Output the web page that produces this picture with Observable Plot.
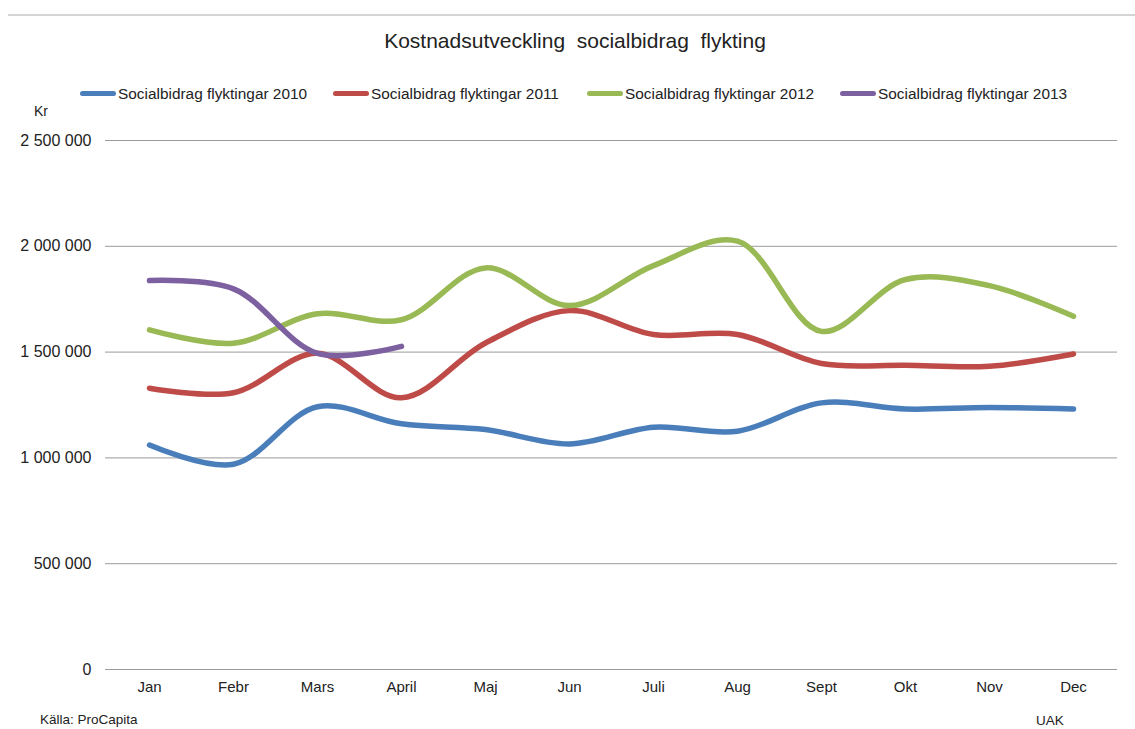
<!DOCTYPE html>
<html>
<head>
<meta charset="utf-8">
<script src="https://cdn.jsdelivr.net/npm/d3@7"></script>
<script src="https://cdn.jsdelivr.net/npm/@observablehq/plot@0.6"></script>
<style>
  body { margin: 0; background: #fff; font-family: "Liberation Sans", Arial, sans-serif; color: #222; }
  #wrap { position: relative; width: 1135px; height: 729px; overflow: hidden; }
  #head { position: relative; height: 130px; }
  .topline { position: absolute; left: 8px; right: 0; top: 14px; height: 2px; background: #d4d4d4; }
  .title { position: absolute; left: 0; width: 1150px; top: 30px; line-height: 1; text-align: center; font-size: 21px; white-space: pre; }
  .leg { position: absolute; top: 86px; font-size: 15.4px; line-height: 1; white-space: nowrap; display: flex; align-items: center; }
  .sw { display: inline-block; width: 36px; height: 5px; border-radius: 3px; margin-right: 2px; }
  .kr { position: absolute; left: 34px; top: 104px; font-size: 14px; line-height: 1; }
  #foot { position: relative; height: 24px; }
  .src { position: absolute; left: 40px; top: 8px; font-size: 13.5px; line-height: 1; }
  .uak { position: absolute; left: 1036px; top: 9px; font-size: 13.5px; line-height: 1; }
</style>
</head>
<body>
<div id="wrap">
  <div id="head">
    <div class="topline"></div>
    <div class="title">Kostnadsutveckling  socialbidrag  flykting</div>
    <div id="legend"></div>
    <div class="kr">Kr</div>
  </div>
  <div id="chart"></div>
  <div id="foot">
    <div class="src">Källa: ProCapita</div>
    <div class="uak">UAK</div>
  </div>
</div>
<script>
const months = ["Jan","Febr","Mars","April","Maj","Jun","Juli","Aug","Sept","Okt","Nov","Dec"];
const seriesNames = ["Socialbidrag flyktingar 2010","Socialbidrag flyktingar 2011","Socialbidrag flyktingar 2012","Socialbidrag flyktingar 2013"];
const colors = ["#4a7ebb","#be4b48","#98b954","#7d60a0"];
const v2010 = [1061000, 970000, 1242000, 1161000, 1134000, 1066000, 1145000, 1126000, 1260000, 1231000, 1238000, 1231000];
const v2011 = [1329000, 1308000, 1494000, 1284000, 1543000, 1696000, 1583000, 1583000, 1446000, 1438000, 1433000, 1491000];
const v2012 = [1605000, 1542000, 1681000, 1653000, 1898000, 1720000, 1909000, 2024000, 1598000, 1843000, 1814000, 1669000];
const v2013 = [1838000, 1799000, 1494000, 1527000];
const yTicks = [0, 500000, 1000000, 1500000, 2000000, 2500000];

const allValues = [v2010, v2011, v2012, v2013];
const data = [];
allValues.forEach((vals, si) => vals.forEach((v, i) => data.push({month: months[i], value: v, series: seriesNames[si]})));

const fmt = d3.formatLocale({decimal: ",", thousands: " ", grouping: [3], currency: ["", ""]}).format(",d");

// legend
const legPos = [80, 333, 587, 840];
const legend = document.getElementById("legend");
seriesNames.forEach((n, i) => {
  const d = document.createElement("div");
  d.className = "leg";
  d.style.left = legPos[i] + "px";
  d.innerHTML = `<span class="sw" style="background:${colors[i]}"></span><span>${n}</span>`;
  legend.appendChild(d);
});

const chart = Plot.plot({
  width: 1135,
  height: 575,
  marginTop: 10,
  marginBottom: 36,
  marginLeft: 105,
  marginRight: 18,
  style: {fontFamily: "Liberation Sans, Arial, sans-serif", fontSize: "15px", color: "#222", background: "#fff"},
  x: {type: "point", domain: months, padding: 0.5, label: null},
  y: {domain: [0, 2500000], label: null},
  color: {domain: seriesNames, range: colors},
  marks: [
    Plot.ruleY(yTicks, {stroke: "#9a9a9a", strokeWidth: 1}),
    Plot.axisY({ticks: yTicks, tickFormat: fmt, tickSize: 0, tickPadding: 14, label: null, fontSize: 16}),
    Plot.axisX({tickSize: 0, tickPadding: 12, label: null, fontSize: 15}),
    Plot.line(data, {x: "month", y: "value", z: "series", stroke: "series", strokeWidth: 5.5, curve: "catmull-rom", strokeLinecap: "round", strokeLinejoin: "round"})
  ]
});
document.getElementById("chart").appendChild(chart);
</script>
</body>
</html>
